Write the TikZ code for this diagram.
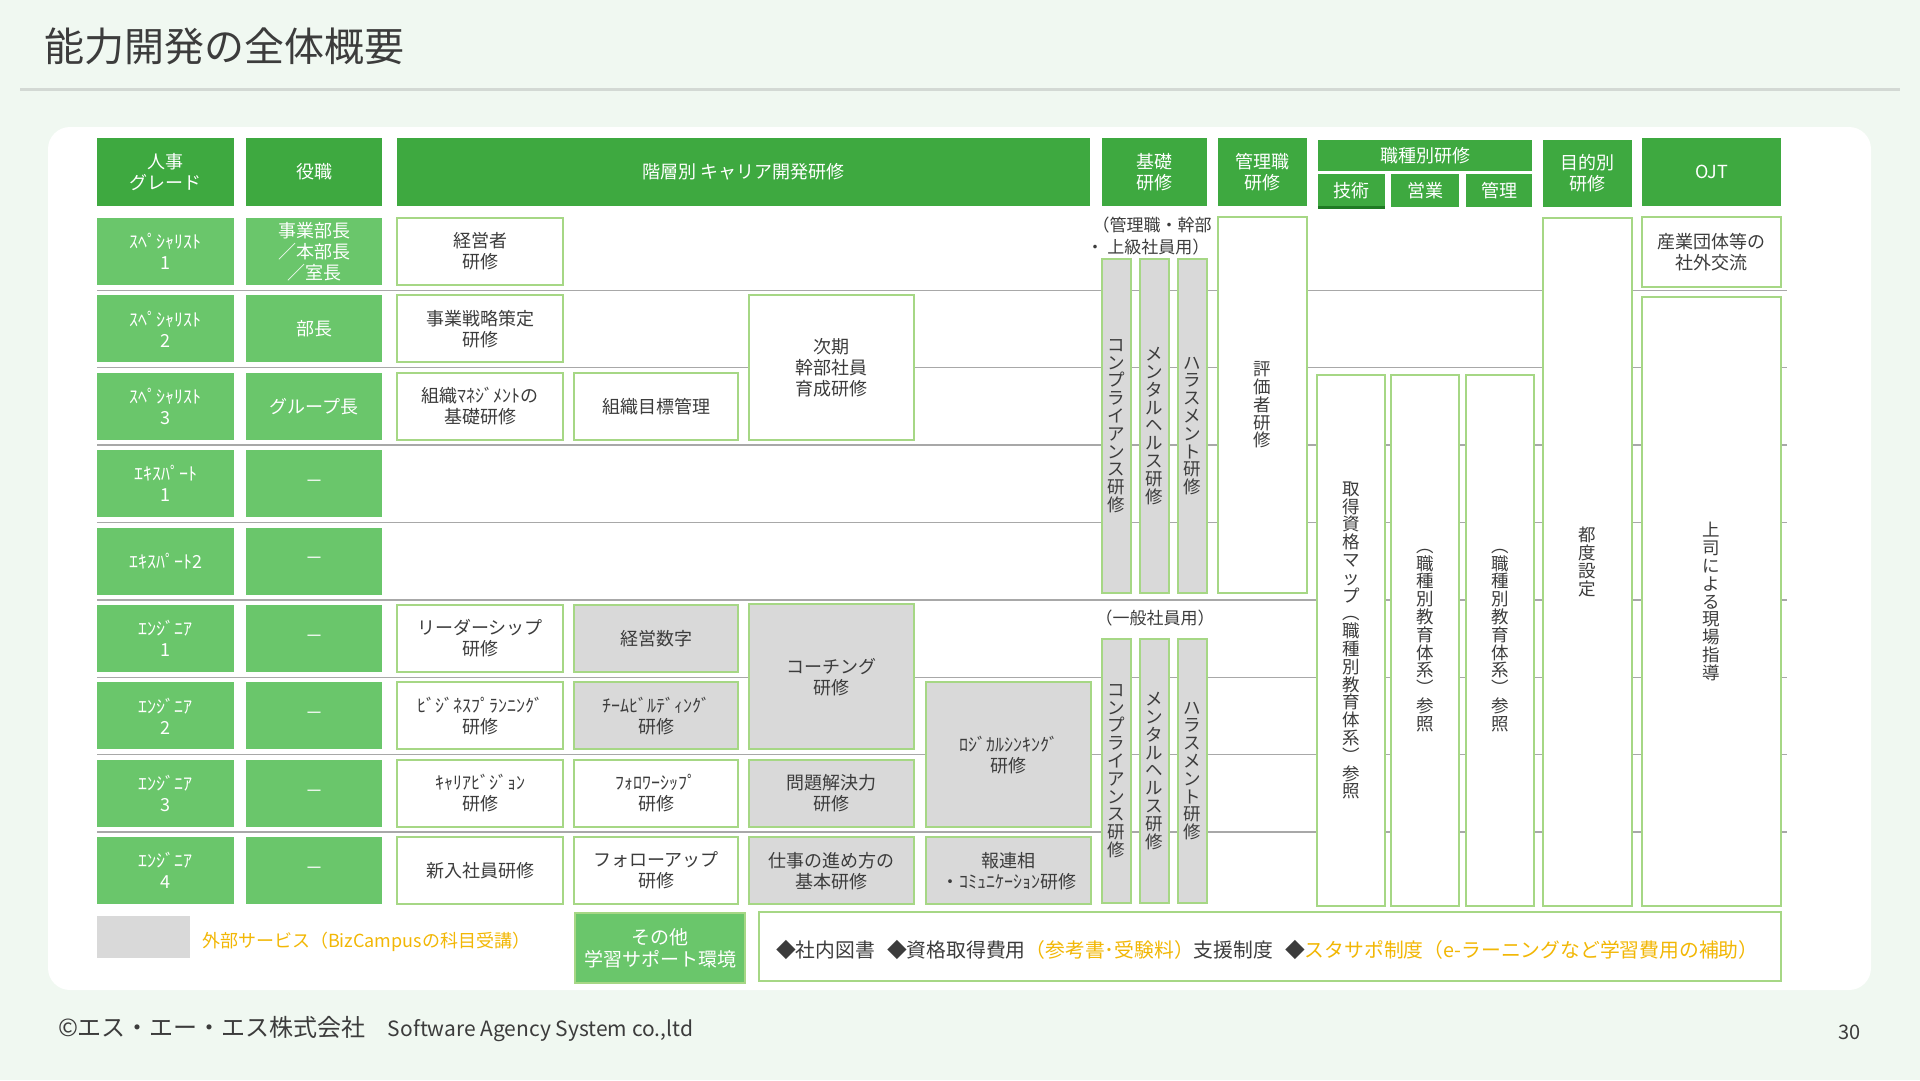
\documentclass[tikz,border=0pt]{standalone}
\usepackage{fontspec}
\setmainfont{Noto Sans CJK JP}
\definecolor{bg}{HTML}{F0F8F1}
\definecolor{hdr}{HTML}{3EA940}
\definecolor{lab}{HTML}{6AC66B}
\definecolor{bord}{HTML}{A6D785}
\definecolor{gfill}{HTML}{D9D9D9}
\definecolor{txt}{HTML}{3C3C3C}
\definecolor{orng}{HTML}{F2B705}
\definecolor{sep}{HTML}{A8A8A8}
\definecolor{tline}{HTML}{D3D9D4}
\definecolor{dkg}{HTML}{1F7A23}
\newcommand\bx[7]{\node[#6, minimum width={(#4)-(#2)}, minimum height={(#5)-(#3)}] (#1) at ({((#2)+(#4))/2},{((#3)+(#5))/2}) {#7};}
\begin{document}
\begin{tikzpicture}[x=1pt,y=-1pt,
  every node/.style={inner sep=0pt, outer sep=0pt, align=center, text=txt, font=\fontsize{18}{21}\selectfont},
  hd/.style={fill=hdr, text=white},
  lb/.style={fill=lab, text=white},
  wb/.style={fill=white, draw=bord, line width=2pt},
  gb/.style={fill=gfill, draw=bord, line width=2pt},
  vt/.style={font=\fontsize{17.5}{17.8}\selectfont},
  gr/.style={lb, font=\fontsize{18}{21}\selectfont},
  nt/.style={font=\fontsize{17}{22}\selectfont}]
\useasboundingbox (0,0) rectangle (1920,1080);
\fill[bg] (0,0) rectangle (1920,1080);
\node[anchor=west, font=\fontsize{40}{48}\selectfont] (title) at (44,46) {能力開発の全体概要};
\draw[tline, line width=3pt] (20,89) -- (1900,89);
\fill[white, rounded corners=22pt] (48,127) rectangle (1871,990);
% separators
\foreach \yy in {290.2,367.6,445,522.4,599.8,677.2,754.6,832}
  \draw[sep, line width=1.4pt] (97,\yy) -- (1787,\yy);
% header
\bx{hA}{97}{138}{234}{206}{hd}{人事\\グレード}
\bx{hB}{246}{138}{382}{206}{hd}{役職}
\bx{hC}{397}{138}{1090}{206}{hd}{階層別 キャリア開発研修}
\bx{hD}{1102}{138}{1207}{206}{hd}{基礎\\研修}
\bx{hE}{1218}{138}{1307}{206}{hd}{管理職\\研修}
\bx{hF}{1318}{140}{1532}{171}{hd}{職種別研修}
\bx{hFa}{1318}{174}{1385}{207}{hd}{技術}
\bx{hFb}{1391}{174}{1459}{207}{hd}{営業}
\bx{hFc}{1466}{174}{1532}{207}{hd}{管理}
\bx{hG}{1543}{140}{1632}{207}{hd}{目的別\\研修}
\bx{hH}{1642}{138}{1781}{206}{hd}{OJT}
\draw[dkg, line width=3pt] (hFa.south west) -- (hFa.south east);
% grade / role columns
\bx{g0}{97}{218}{234}{285}{gr}{ｽﾍﾟｼｬﾘｽﾄ\\1}
\bx{p0}{246}{218}{382}{285}{gr}{事業部長\\／本部長\\／室長}
\bx{g1}{97}{295.4}{234}{362.4}{gr}{ｽﾍﾟｼｬﾘｽﾄ\\2}
\bx{p1}{246}{295.4}{382}{362.4}{lb}{部長}
\bx{g2}{97}{372.8}{234}{439.8}{gr}{ｽﾍﾟｼｬﾘｽﾄ\\3}
\bx{p2}{246}{372.8}{382}{439.8}{lb}{グループ長}
\bx{g3}{97}{450.2}{234}{517.2}{gr}{ｴｷｽﾊﾟｰﾄ\\1}
\bx{p3}{246}{450.2}{382}{517.2}{lb}{－}
\bx{g4}{97}{527.6}{234}{594.6}{gr}{ｴｷｽﾊﾟｰﾄ2}
\bx{p4}{246}{527.6}{382}{594.6}{lb}{－}
\bx{g5}{97}{605}{234}{672}{gr}{ｴﾝｼﾞﾆｱ\\1}
\bx{p5}{246}{605}{382}{672}{lb}{－}
\bx{g6}{97}{682.4}{234}{749.4}{gr}{ｴﾝｼﾞﾆｱ\\2}
\bx{p6}{246}{682.4}{382}{749.4}{lb}{－}
\bx{g7}{97}{759.8}{234}{826.8}{gr}{ｴﾝｼﾞﾆｱ\\3}
\bx{p7}{246}{759.8}{382}{826.8}{lb}{－}
\bx{g8}{97}{837.2}{234}{904.2}{gr}{ｴﾝｼﾞﾆｱ\\4}
\bx{p8}{246}{837.2}{382}{904.2}{lb}{－}
% career cells
\bx{c01}{397}{218}{563}{285}{wb}{経営者\\研修}
\bx{c11}{397}{295.4}{563}{362.4}{wb}{事業戦略策定\\研修}
\bx{c13}{749}{295.4}{914}{439.8}{wb}{次期\\幹部社員\\育成研修}
\bx{c21}{397}{372.8}{563}{439.8}{wb}{組織ﾏﾈｼﾞﾒﾝﾄの\\基礎研修}
\bx{c22}{574}{372.8}{738}{439.8}{wb}{組織目標管理}
\bx{c51}{397}{605}{563}{672}{wb}{リーダーシップ\\研修}
\bx{c52}{574}{605}{738}{672}{gb}{経営数字}
\bx{c53}{749}{604}{914}{749.4}{gb}{コーチング\\研修}
\bx{c61}{397}{682.4}{563}{749.4}{wb}{ﾋﾞｼﾞﾈｽﾌﾟﾗﾝﾆﾝｸﾞ\\研修}
\bx{c62}{574}{682.4}{738}{749.4}{gb}{ﾁｰﾑﾋﾞﾙﾃﾞｨﾝｸﾞ\\研修}
\bx{c64}{926}{682.4}{1091}{826.8}{gb}{ﾛｼﾞｶﾙｼﾝｷﾝｸﾞ\\研修}
\bx{c71}{397}{759.8}{563}{826.8}{wb}{ｷｬﾘｱﾋﾞｼﾞｮﾝ\\研修}
\bx{c72}{574}{759.8}{738}{826.8}{wb}{ﾌｫﾛﾜｰｼｯﾌﾟ\\研修}
\bx{c73}{749}{759.8}{914}{826.8}{gb}{問題解決力\\研修}
\bx{c81}{397}{837.2}{563}{904.2}{wb}{新入社員研修}
\bx{c82}{574}{837.2}{738}{904.2}{wb}{フォローアップ\\研修}
\bx{c83}{749}{837.2}{914}{904.2}{gb}{仕事の進め方の\\基本研修}
\bx{c84}{926}{837.2}{1091}{904.2}{gb}{報連相\\・ｺﾐｭﾆｹｰｼｮﾝ研修}
% basic training bars
\node[nt] (n1) at (1152,225) {（管理職・幹部};
\node[nt] (n2) at (1148,247) {・ 上級社員用）};
\bx{k1}{1102}{259}{1131}{593}{gb,vt}{コ\\ン\\プ\\ラ\\イ\\ア\\ン\\ス\\研\\修}
\bx{k2}{1140}{259}{1169}{593}{gb,vt}{メ\\ン\\タ\\ル\\ヘ\\ル\\ス\\研\\修}
\bx{k3}{1178}{259}{1207}{593}{gb,vt}{ハ\\ラ\\ス\\メ\\ン\\ト\\研\\修}
\node[nt] (n3) at (1155,618) {（一般社員用）};
\bx{m1}{1102}{639}{1131}{903}{gb,vt}{コ\\ン\\プ\\ラ\\イ\\ア\\ン\\ス\\研\\修}
\bx{m2}{1140}{639}{1169}{903}{gb,vt}{メ\\ン\\タ\\ル\\ヘ\\ル\\ス\\研\\修}
\bx{m3}{1178}{639}{1207}{903}{gb,vt}{ハ\\ラ\\ス\\メ\\ン\\ト\\研\\修}
% right columns
\bx{ev}{1218}{217}{1307}{593}{wb,vt}{評\\価\\者\\研\\修}
\bx{s1}{1317}{375}{1385}{906}{wb,vt}{取\\得\\資\\格\\マ\\ッ\\プ\\︵\\職\\種\\別\\教\\育\\体\\系\\︶\\参\\照}
\bx{s2}{1391}{375}{1459}{906}{wb,vt}{︵\\職\\種\\別\\教\\育\\体\\系\\︶\\参\\照}
\bx{s3}{1466}{375}{1534}{906}{wb,vt}{︵\\職\\種\\別\\教\\育\\体\\系\\︶\\参\\照}
\bx{pu}{1543}{218}{1632}{906}{wb,vt}{都\\度\\設\\定}
\bx{o1}{1642}{217}{1781}{287}{wb}{産業団体等の\\社外交流}
\bx{o2}{1642}{297}{1781}{906}{wb,vt}{上\\司\\に\\よ\\る\\現\\場\\指\\導}
% legend
\bx{lg}{97}{916}{190}{958}{fill=gfill}{}
\node[anchor=west, text=orng] (lgt) at (202,942) {外部サービス（BizCampusの科目受講）};
\bx{ot}{575}{913}{745}{983}{lb, draw=bord, line width=2pt, font=\fontsize{19}{22}\selectfont}{その他\\学習サポート環境}
\bx{sp}{759}{912}{1781}{981}{wb}{}
\node[anchor=west, font=\fontsize{19.8}{22}\selectfont] (spt) at (776,950) {◆社内図書\hspace{12pt}◆資格取得費用\textcolor{orng}{（参考書･受験料）}支援制度\hspace{12pt}◆\textcolor{orng}{スタサポ制度（e-ラーニングなど学習費用の補助）}};
% footer
\node[anchor=west, font=\fontsize{24}{28}\selectfont] (ft) at (58,1029) {©エス・エー・エス株式会社\hspace{22pt}{\fontsize{21}{26}\selectfont Software Agency System co.,ltd}};
\node[anchor=east, font=\fontsize{20}{24}\selectfont] (pg) at (1861,1032) {30};
\end{tikzpicture}
\end{document}
